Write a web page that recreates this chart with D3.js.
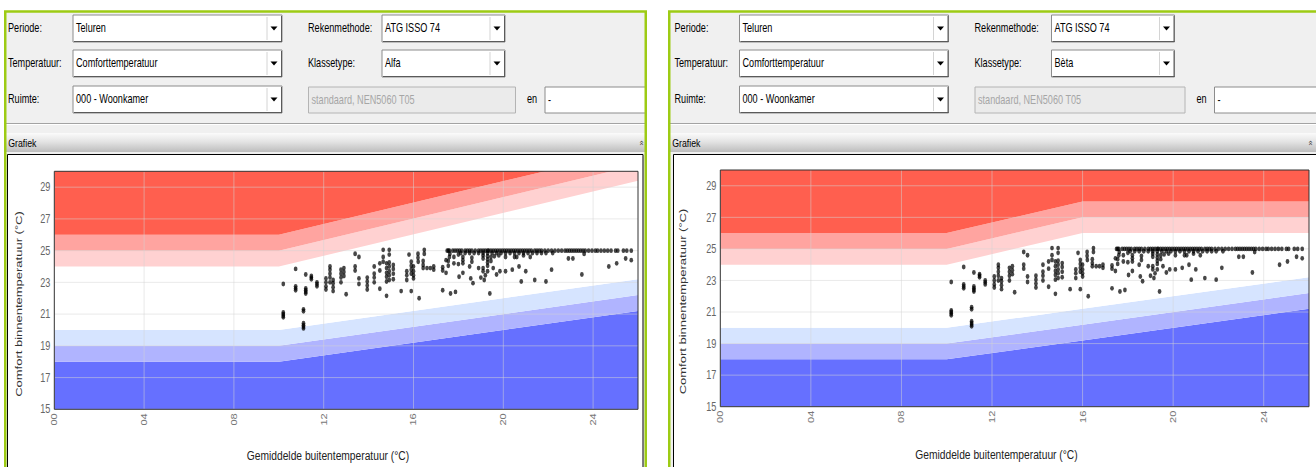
<!DOCTYPE html>
<html><head><meta charset="utf-8">
<script src="https://cdn.jsdelivr.net/npm/d3@7"></script>
<style>
html,body{margin:0;padding:0;background:#fff;overflow:hidden;}
svg{display:block;}
text{font-family:"Liberation Sans",Arial,sans-serif;}
</style></head><body>
<svg id="root" width="1316" height="467"></svg>
<script>
// ================= DATA =================
const xDomain = [0, 26];
const yDomain = [15, 30];
const yTicks = [15, 17, 19, 21, 23, 25, 27, 29];
const xTicks = [0, 4, 8, 12, 16, 20, 24];
const xTickLabels = ["00", "04", "08", "12", "16", "20", "24"];

// Alfa comfort band boundaries (°C) at breakpoints of outdoor temperature
const alfaBreaks = [0, 10, 26];
const alfaUpperA = [24, 24, 29.4];
const alfaUpperB = [25, 25, 30.4];
const alfaUpperC = [26, 26, 31.4];
const alfaLowerA = [20, 20, 23.2];
const alfaLowerB = [19, 19, 22.2];
const alfaLowerC = [18, 18, 21.2];

// Bèta comfort band boundaries
const betaBreaks = [0, 10, 16, 26];
const betaUpperA = [24, 24, 26, 26];
const betaUpperB = [25, 25, 27, 27];
const betaUpperC = [26, 26, 28, 28];
const betaLowerA = [20, 20, 21.2, 23.2];
const betaLowerB = [19, 19, 20.2, 22.2];
const betaLowerC = [18, 18, 19.2, 21.2];

// Observed (outdoor mean temp, comfort indoor temp)
const obsPoints = [
 [10.2,22.9],[10.2,21.1],[10.2,21.0],[10.2,20.9],[10.2,20.8],
 [10.75,23.85],[10.75,22.75],[10.75,22.62],[10.75,22.5],
 [11.1,21.3],[11.1,21.18],[11.1,20.42],[11.1,20.3],[11.1,20.2],[11.1,20.1],
 [11.2,23.5],[11.2,22.62],[11.2,22.5],[11.2,22.4],[11.2,22.3],
 [11.45,23.4],[11.45,23.3],[11.45,23.2],
 [11.7,23.0],[11.7,22.88],[11.7,22.75],
 [12.1,23.25],[12.1,23.0],[12.1,22.75],[12.1,22.55],
 [12.28,24.0],[12.28,23.8],[12.28,23.55],[12.28,23.3],[12.28,23.0],
 [12.42,23.15],[12.42,22.95],[12.42,22.7],[12.42,22.45],
 [12.77,23.8],[12.77,23.55],[12.77,23.3],[12.77,23.0],
 [12.9,23.9],[12.9,23.65],[12.9,23.4],
 [13.0,22.25],
 [13.4,24.8],[13.4,24.0],[13.4,23.75],
 [13.57,24.6],[13.57,23.25],[13.57,22.9],
 [13.94,23.3],[13.94,23.05],[13.94,22.8],[13.94,22.55],
 [14.25,24.0],[14.25,23.55],[14.25,23.3],[14.25,23.0],
 [14.5,24.2],[14.5,23.75],[14.5,22.6],
 [14.65,25.05],[14.65,24.6],[14.65,24.3],
 [14.8,22.15],[14.8,24.2],[14.8,23.9],[14.8,23.6],[14.8,23.35],[14.8,23.05],
 [14.92,25.05],[14.92,24.75],[14.92,24.25],[14.92,24.0],[14.92,23.7],[14.92,23.45],[14.92,23.15],
 [15.1,24.1],[15.1,23.85],[15.1,23.55],[15.1,23.2],
 [15.45,22.45],
 [15.7,23.7],[15.7,23.45],[15.7,23.15],
 [15.8,24.75],
 [15.9,24.3],[15.9,24.05],[15.9,23.8],[15.9,23.55],[15.9,22.45],
 [16.0,24.0],[16.0,23.7],[16.0,23.45],[16.0,23.25],
 [16.2,24.8],[16.2,24.55],[16.21,24.3],[16.25,22.0],
 [16.43,24.35],[16.43,24.1],[16.43,23.9],
 [16.48,25.05],[16.48,24.8],
 [16.6,23.9],[16.75,23.9],[16.9,24.0],[16.9,23.8],
 [17.3,22.5],[17.3,23.95],[17.3,23.75],
 [17.45,23.6],[17.45,24.4],
 [17.55,25.0],[17.55,24.35],[17.55,24.05],
 [17.62,24.8],[17.65,22.3],
 [17.8,24.6],[17.8,24.2],
 [17.87,22.4],
 [18.0,24.75],[18.0,24.15],[18.03,23.35],
 // main row at 25 °C
 [17.5,25.0],[17.6,25.0],[17.75,25.0],[17.85,25.0],[17.95,25.0],[18.05,25.0],[18.15,25.0],[18.3,25.0],
 [18.4,25.0],[18.5,25.0],[18.6,25.0],[18.75,25.0],[18.9,25.0],[19.0,25.0],[19.1,25.0],[19.2,25.0],
 [19.3,25.0],[19.35,25.0],[19.45,25.0],[19.55,25.0],[19.65,25.0],[19.75,25.0],[19.85,25.0],[19.95,25.0],
 [20.05,25.0],[20.15,25.0],[20.25,25.0],[20.35,25.0],[20.45,25.0],[20.55,25.0],[20.65,25.0],[20.75,25.0],
 [20.85,25.0],[20.95,25.0],[21.05,25.0],[21.15,25.0],[21.25,25.0],[21.4,25.0],[21.5,25.0],[21.6,25.0],
 [21.7,25.0],[21.85,25.0],[22.0,25.0],[22.15,25.0],[22.3,25.0],[22.45,25.0],[22.6,25.0],[22.75,25.0],
 [22.85,25.0],[22.95,25.0],[23.05,25.0],[23.15,25.0],[23.25,25.0],[23.35,25.0],[23.45,25.0],[23.55,25.0],
 [23.65,25.0],[23.8,25.0],[23.95,25.0],[24.1,25.0],[24.2,25.0],[24.35,25.0],[24.5,25.0],[24.65,25.0],
 [24.8,25.0],[25.0,25.0],[25.1,25.0],[25.35,25.0],[25.5,25.0],[25.7,25.0],
 // second row just below 25 (thick part)
 [18.1,24.85],[18.3,24.85],[18.5,24.85],[18.7,24.85],[18.9,24.85],[19.1,24.85],[19.3,24.85],
 [19.5,24.85],[19.7,24.85],[19.9,24.85],[20.1,24.85],[20.3,24.85],[20.5,24.85],[20.7,24.85],
 [20.9,24.85],[21.1,24.85],[21.3,24.85],[21.5,24.85],[21.7,24.85],[21.9,24.85],[22.2,24.85],
 // vertical streaks
 [17.6,24.6],[18.2,24.6],[18.2,24.4],[18.2,24.2],[18.6,24.55],[18.6,24.3],
 [19.1,24.7],[19.1,24.5],[19.1,23.9],[19.1,23.7],
 [19.3,24.65],[19.3,24.45],[19.3,24.25],[19.3,24.05],
 [19.45,24.6],[19.45,24.35],[19.6,24.65],[19.8,24.7],[20.1,24.6],[20.6,24.6],[20.9,24.7],
 // scattered lower points
 [18.2,23.6],[18.55,23.25],[18.65,22.95],[19.2,23.45],[19.4,22.3],[19.15,23.15],[19.7,23.5],
 [19.85,23.7],[20.1,23.7],[20.4,23.8],[20.5,24.6],[20.8,23.05],[21.2,24.6],[21.4,23.15],
 [21.9,23.05],[22.15,23.8],[22.9,24.5],[23.1,24.5],[23.5,23.5],[23.6,24.8],[24.7,24.0],
 [25.05,24.2],[25.45,24.5],[25.7,24.4],[18.5,24.0],[18.9,23.9],[19.0,23.3],[19.3,23.7],
 [19.55,23.9],[20.7,24.0],[21.0,23.7]
];

// form texts
const rowLabels = ["Periode:", "Temperatuur:", "Ruimte:"];
const rowValues = ["Teluren", "Comforttemperatuur", "000 -  Woonkamer"];
const col2Labels = ["Rekenmethode:", "Klassetype:"];
const col2ValuesAlfa = ["ATG ISSO 74", "Alfa"];
const col2ValuesBeta = ["ATG ISSO 74", "Bèta"];
const disabledText = "standaard, NEN5060 T05";
const enLabel = "en";
const enValue = "-";
const headerTitle = "Grafiek";
const yTitle = "Comfort binnentemperatuur (°C)";
const xTitle = "Gemiddelde buitentemperatuur (°C)";

// ================= DRAWING =================
const K = 0.76;               // horizontal squeeze of the screenshot
const X = px => px / K;
const svg = d3.select("#root");
const defs = svg.append("defs");
const grad = defs.append("linearGradient").attr("id","hdrGrad").attr("x1",0).attr("y1",0).attr("x2",0).attr("y2",1);
grad.append("stop").attr("offset","0").attr("stop-color","#fbfbfb");
grad.append("stop").attr("offset","0.45").attr("stop-color","#e4e4e4");
grad.append("stop").attr("offset","1").attr("stop-color","#bdbdbd");
const root = svg.append("g").attr("transform", `scale(${K},1)`);

const bandColors = {
  red: "#ff5f4f", lightRed: "#ffa4a0", paleRed: "#ffd1d1",
  paleBlue: "#d6e4ff", midBlue: "#b0b4ff", blue: "#6670ff"
};

function hline(g, x0, x1, yy, color) {
  g.append("line").attr("x1", X(x0)).attr("x2", X(x1)).attr("y1", yy).attr("y2", yy)
    .attr("stroke", color).attr("vector-effect","non-scaling-stroke");
}
function vline(g, xx, y0, y1, color) {
  g.append("line").attr("x1", X(xx)).attr("x2", X(xx)).attr("y1", y0).attr("y2", y1)
    .attr("stroke", color).attr("vector-effect","non-scaling-stroke");
}
function label(g, xx, yy, txt, opts = {}) {
  return g.append("text").attr("x", X(xx)).attr("y", yy).text(txt)
    .attr("font-size", opts.size || 12).attr("fill", opts.fill || "#000")
    .attr("text-anchor", opts.anchor || "start");
}
function selectBox(g, x0, x1, y0, h, txt) {
  g.append("rect").attr("x", X(x0)).attr("y", y0).attr("width", X(x1 - x0)).attr("height", h)
    .attr("fill", "#fff").attr("stroke", "#8c8c8c").attr("vector-effect","non-scaling-stroke");
  hline(g, x0 + 1, x1, y0 + h - 0.5, "#5a5a5a");
  vline(g, x1 - 0.5, y0 + 1, y0 + h, "#5a5a5a");
  vline(g, x1 - 15, y0 + 2, y0 + h - 2, "#d4d4d4");
  const cx = x1 - 8, cy = y0 + h / 2;
  g.append("path").attr("d", `M${X(cx-3.5)},${cy-2}L${X(cx+3.5)},${cy-2}L${X(cx)},${cy+2}Z`).attr("fill","#000");
  label(g, x0 + 3, y0 + h / 2 + 4, txt);
}
function textBox(g, x0, x1, y0, h, txt, disabled) {
  g.append("rect").attr("x", X(x0)).attr("y", y0).attr("width", X(x1 - x0)).attr("height", h)
    .attr("fill", disabled ? "#ebebeb" : "#fff").attr("stroke", disabled ? "#b4b4b4" : "#8c8c8c")
    .attr("vector-effect","non-scaling-stroke");
  label(g, x0 + 3, y0 + h / 2 + 4, txt, { fill: disabled ? "#a6a6a6" : "#000" });
}

function drawPanel(cfg) {
  const g = root.append("g");
  const clipId = "clip-" + cfg.id;
  defs.append("clipPath").attr("id", clipId).append("rect")
    .attr("x", X(cfg.gx0)).attr("y", cfg.gy0).attr("width", X(cfg.gx1 - cfg.gx0)).attr("height", 520);
  g.append("rect").attr("x", X(cfg.gx0)).attr("y", cfg.gy0).attr("width", X(cfg.gx1 - cfg.gx0))
    .attr("height", 520).attr("fill", "#f0f0f0");
  const inner = g.append("g").attr("clip-path", `url(#${clipId})`);

  // ---- form ----
  const rowTops = [15, 50, 86], rowH = 27;
  rowLabels.forEach((t, i) => {
    label(inner, cfg.dx + 8, rowTops[i] + rowH / 2 + 4, t);
    selectBox(inner, cfg.dx + 73, cfg.dx + 282, rowTops[i], rowH, rowValues[i]);
  });
  col2Labels.forEach((t, i) => {
    label(inner, cfg.dx + 308, rowTops[i] + rowH / 2 + 4, t);
    selectBox(inner, cfg.dx2 + 382, cfg.dx2 + 505, rowTops[i], rowH, cfg.col2Values[i]);
  });
  textBox(inner, cfg.dx + 308.5, cfg.dx2 + 515.5, rowTops[2] + 1, rowH - 1, disabledText, true);
  label(inner, cfg.dx2 + 527, rowTops[2] + rowH / 2 + 4, enLabel);
  textBox(inner, cfg.dx2 + 545, cfg.dx2 + 720, rowTops[2] + 1, rowH - 1, enValue, false);

  // separator
  hline(inner, cfg.gx0, cfg.gx1, 123.5, "#a3a3a3");
  hline(inner, cfg.gx0, cfg.gx1, 124.5, "#ffffff");

  // header bar
  inner.append("rect").attr("x", X(cfg.gx0)).attr("y", 133).attr("width", X(cfg.gx1 - cfg.gx0))
    .attr("height", 19).attr("fill", "url(#hdrGrad)");
  label(inner, cfg.gx0 + 3, 147, headerTitle, { size: 11.5 });
  inner.append("text").attr("transform", `translate(${X(cfg.iconX)},143) rotate(-90)`)
    .attr("text-anchor","middle").attr("dy","0.35em").attr("font-size",9).attr("fill","#333").text("»");

  // chart container
  inner.append("rect").attr("x", X(cfg.cx0)).attr("y", 154.5).attr("width", X(cfg.cx1 - cfg.cx0))
    .attr("height", 400).attr("fill", "#fff").attr("stroke", "#000").attr("vector-effect","non-scaling-stroke");

  // ---- chart ----
  const p = cfg.plot;
  const x = d3.scaleLinear().domain(xDomain).range([X(p.l), X(p.r)]);
  const y = d3.scaleLinear().domain(yDomain).range([p.b, p.t]);
  const plotClip = "pclip-" + cfg.id;
  defs.append("clipPath").attr("id", plotClip).append("rect")
    .attr("x", x(xDomain[0])).attr("y", y(yDomain[1])).attr("width", x(xDomain[1]) - x(xDomain[0]))
    .attr("height", y(yDomain[0]) - y(yDomain[1]));
  const plot = inner.append("g").attr("clip-path", `url(#${plotClip})`);

  const br = cfg.breaks;
  const val = (v, i) => (Array.isArray(v) ? v[i] : v);
  const bands = [
    { lo: yDomain[0], hi: cfg.lowerC, c: bandColors.blue },
    { lo: cfg.lowerC, hi: cfg.lowerB, c: bandColors.midBlue },
    { lo: cfg.lowerB, hi: cfg.lowerA, c: bandColors.paleBlue },
    { lo: cfg.lowerA, hi: cfg.upperA, c: "#ffffff" },
    { lo: cfg.upperA, hi: cfg.upperB, c: bandColors.paleRed },
    { lo: cfg.upperB, hi: cfg.upperC, c: bandColors.lightRed },
    { lo: cfg.upperC, hi: yDomain[1] + 5, c: bandColors.red }
  ];
  bands.forEach(b => {
    const area = d3.area()
      .x((d, i) => x(br[i]))
      .y0((d, i) => y(val(b.lo, i)))
      .y1((d, i) => y(val(b.hi, i)));
    plot.append("path").attr("d", area(br)).attr("fill", b.c);
  });

  // grid
  const grid = plot.append("g").attr("stroke", "#d6d6d6").attr("stroke-opacity", 0.5);
  yTicks.forEach(t => grid.append("line").attr("x1", x(xDomain[0])).attr("x2", x(xDomain[1]))
    .attr("y1", y(t)).attr("y2", y(t)).attr("vector-effect","non-scaling-stroke"));
  xTicks.forEach(t => grid.append("line").attr("x1", x(t)).attr("x2", x(t))
    .attr("y1", y(yDomain[0])).attr("y2", y(yDomain[1])).attr("vector-effect","non-scaling-stroke"));

  // points
  plot.append("g").selectAll("circle").data(obsPoints).join("circle")
    .attr("cx", d => x(d[0])).attr("cy", d => y(d[1])).attr("r", 2.45)
    .attr("fill", "#000").attr("fill-opacity", 0.72);

  // frame
  inner.append("rect").attr("x", x(xDomain[0])).attr("y", y(yDomain[1]))
    .attr("width", x(xDomain[1]) - x(xDomain[0])).attr("height", y(yDomain[0]) - y(yDomain[1]))
    .attr("fill", "none").attr("stroke", "#333").attr("vector-effect","non-scaling-stroke");

  // y tick labels
  yTicks.forEach(t => inner.append("text").attr("x", x(xDomain[0]) - X(4)).attr("y", y(t))
    .attr("dy", "0.35em").attr("text-anchor", "end").attr("font-size", 12).attr("fill", "#666").text(t));
  // x tick labels (rotated)
  xTicks.forEach((t, i) => inner.append("text")
    .attr("transform", `translate(${x(t)},${y(yDomain[0]) + 4}) rotate(-90)`)
    .attr("dy", "0.35em").attr("text-anchor", "end").attr("font-size", 11).attr("fill", "#777")
    .text(xTickLabels[i]));

  // axis titles
  inner.append("text").attr("transform", `translate(${X(cfg.yT.x)},${cfg.yT.y}) rotate(-90)`)
    .attr("dy", "0.35em").attr("text-anchor", "middle").attr("font-size", 13).attr("fill", "#333").text(yTitle);
  inner.append("text").attr("x", X(cfg.xT.x)).attr("y", cfg.xT.y)
    .attr("text-anchor", "middle").attr("font-size", 13.5).attr("fill", "#222").text(xTitle);

  // green frame
  g.append("rect").attr("x", X(cfg.gx0)).attr("y", cfg.gy0).attr("width", X(cfg.gx1 - cfg.gx0))
    .attr("height", 520).attr("fill", "none").attr("stroke", "#9dcb14").attr("stroke-width", 2.5)
    .attr("vector-effect","non-scaling-stroke");
}

drawPanel({
  id: "alfa", gx0: 5.25, gx1: 645.75, gy0: 11.5, dx: 0, dx2: 0, iconX: 641.5,
  col2Values: col2ValuesAlfa,
  cx0: 7.5, cx1: 643,
  plot: { l: 54.3, r: 638, t: 171.3, b: 409.3 },
  yT: { x: 18.5, y: 304 }, xT: { x: 328, y: 460.5 },
  breaks: alfaBreaks,
  upperA: alfaUpperA, upperB: alfaUpperB, upperC: alfaUpperC,
  lowerA: alfaLowerA, lowerB: alfaLowerB, lowerC: alfaLowerC
});
drawPanel({
  id: "beta", gx0: 669.25, gx1: 1340, gy0: 11.5, dx: 666.5, dx2: 669.5, iconX: 1311,
  col2Values: col2ValuesBeta,
  cx0: 673.5, cx1: 1340,
  plot: { l: 720.3, r: 1309, t: 170, b: 406.7 },
  yT: { x: 682.7, y: 301.5 }, xT: { x: 996.5, y: 459 },
  breaks: betaBreaks,
  upperA: betaUpperA, upperB: betaUpperB, upperC: betaUpperC,
  lowerA: betaLowerA, lowerB: betaLowerB, lowerC: betaLowerC
});
</script>
</body></html>
